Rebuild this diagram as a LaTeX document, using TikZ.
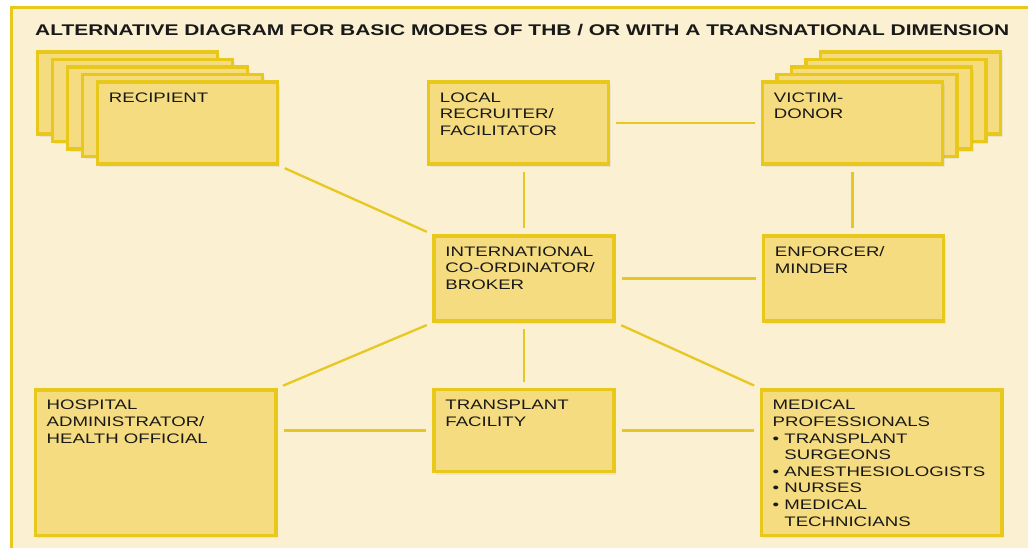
\documentclass[tikz,border=0pt]{standalone}
\usepackage{fontspec}
\setmainfont{Liberation Sans}[FakeStretch=1.35]
\usetikzlibrary{positioning}
\usetikzlibrary{shadows}
\definecolor{paper}{HTML}{FBF1D2}
\definecolor{boxfill}{HTML}{F5DC80}
\definecolor{boxline}{HTML}{E9C81C}
\definecolor{wirecol}{HTML}{E8C720}
\tikzstyle{actor} = [draw=boxline, fill=boxfill, line width=3.5pt, minimum width=180pt, minimum height=82pt, inner sep=0pt, drop shadow={opacity=0.12, shadow xshift=2pt, shadow yshift=-3pt}]
\tikzstyle{bigactor} = [actor, minimum width=240.5pt, minimum height=145.5pt]
\tikzstyle{caption} = [anchor=north west, align=left, inner sep=0pt, xshift=13pt, yshift=-12pt, font=\fontsize{13.8}{16.6}\selectfont, text=black!90]
\tikzstyle{wire} = [draw=wirecol, line width=2.3pt, shorten <=6pt, shorten >=6pt]

\begin{document}
\begin{tikzpicture}[x=1pt, y=-1pt, auto]
    \useasboundingbox (0,0) rectangle (1028,548);
    \fill [paper, draw=boxline, line width=3pt] (11.5,7.5) rectangle (1060,580);
    \node [anchor=base west, inner sep=0pt, font=\fontsize{15.5}{18}\selectfont\bfseries, text=black!90] (title) at (35,36) {ALTERNATIVE DIAGRAM FOR BASIC MODES OF THB / OR WITH A TRANSNATIONAL DIMENSION};

    % middle column
    \node [actor, minimum height=85pt, label={[caption]north west:INTERNATIONAL\\CO-ORDINATOR/\\BROKER}] (broker) at (524,278.5) {};
    \node [actor, above of=broker, node distance=155.5pt, xshift=-5.5pt, label={[caption]north west:LOCAL\\RECRUITER/\\FACILITATOR}] (local) {};
    \node [actor, below of=broker, node distance=152pt, label={[caption]north west:TRANSPLANT\\FACILITY}] (transplant) {};

    % stacked recipients
    \coordinate [left of=local, node distance=331pt] (recipc);
    \foreach \k in {4,3,2,1}
        \node [actor] (recip\k) at ([shift={(-15*\k,-7.5*\k)}]recipc) {};
    \node [actor, label={[caption]north west:RECIPIENT}] (recip) at (recipc) {};

    % stacked victims
    \node [actor, minimum height=85pt, right of=broker, node distance=329.5pt, label={[caption]north west:ENFORCER/\\MINDER}] (enforcer) {};
    \coordinate [above of=enforcer, node distance=155.5pt, xshift=-1pt] (victimc);
    \foreach \k in {4,3,2,1}
        \node [actor] (victim\k) at ([shift={(14.5*\k,-7.5*\k)}]victimc) {};
    \node [actor, label={[caption]north west:VICTIM-\\DONOR}] (victim) at (victimc) {};

    % bottom row
    \node [bigactor, label={[caption]north west:HOSPITAL\\ADMINISTRATOR/\\HEALTH OFFICIAL}] (hospital) at (155.5,462.5) {};
    \node [bigactor, label={[caption]north west:MEDICAL\\PROFESSIONALS\\\textbullet\ TRANSPLANT\\\phantom{\textbullet\ }SURGEONS\\\textbullet\ ANESTHESIOLOGISTS\\\textbullet\ NURSES\\\textbullet\ MEDICAL\\\phantom{\textbullet\ }TECHNICIANS}] (medical) at (881.5,462.5) {};

    \draw [wire] (recip.south east) -- (broker.north west);
    \draw [wire] (broker.north |- local.south) -- (broker.north);
    \draw [wire] (local.east) -- (victim.west);
    \draw [wire] (victim.south) -- (victim.south |- enforcer.north);
    \draw [wire] (broker.east) -- (enforcer.west);
    \draw [wire] (broker.south west) -- (hospital.north east);
    \draw [wire] (broker.south) -- (transplant.north);
    \draw [wire] (broker.south east) -- (medical.north west);
    \draw [wire] (transplant.west -| hospital.east) -- (transplant.west);
    \draw [wire] (transplant.east) -- (transplant.east -| medical.west);
\end{tikzpicture}
\end{document}
